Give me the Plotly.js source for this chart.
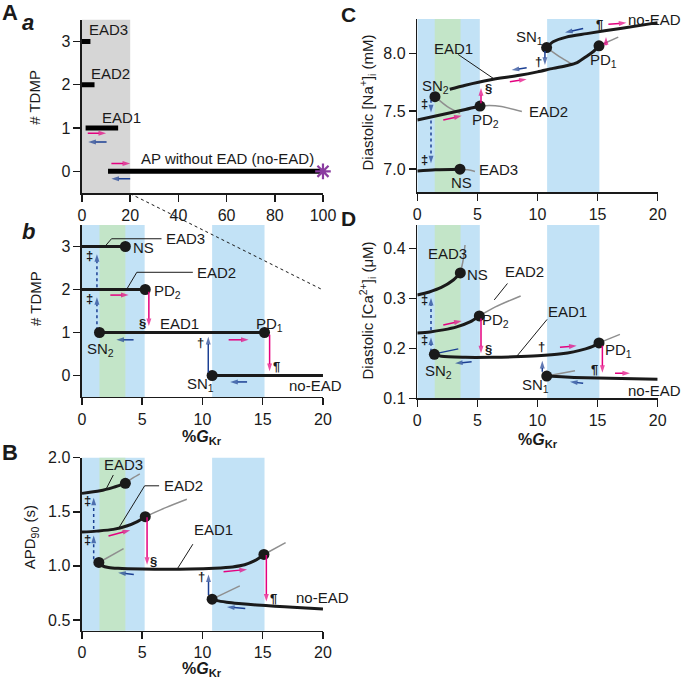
<!DOCTYPE html>
<html><head><meta charset="utf-8">
<script src="https://cdn.plot.ly/plotly-3.0.1.min.js"></script>
<style>body{margin:0;background:#fff}</style>
</head><body>
<div id="chart" style="width:685px;height:682px"></div>
<script>
// ---------- Panel Aa: number of TDMP vs %GKr (0-100) ----------
const aaBarY  = [3, 2, 1, 0];
const aaBarX0 = [0, 0, 1.5, 10.8];
const aaBarX1 = [3.5, 5.2, 15, 100];
const aaStarX = [100], aaStarY = [0];
const aaArrows = [[2.4,0.88,10,0.88,'f'],[10.2,0.68,2.6,0.68,'b'],[12.2,0.18,20,0.18,'f'],[20,-0.17,12.2,-0.17,'b']];
const aaLabels = [['EAD3',2.2,3.27,'left'],['EAD2',3.0,2.27,'left'],['EAD1',7.5,1.24,'left'],['AP without EAD (no-EAD)',23.5,0.3,'left']];

// ---------- Panel Ab: number of TDMP vs %GKr (0-20) ----------
const abLevelY = [3, 2, 1, 0];
const abX0 = [0, 0, 1.45, 10.8];
const abX1 = [3.6, 5.25, 15.15, 20];
const abDotX = [3.6, 5.25, 1.45, 15.15, 10.8];
const abDotY = [3, 2, 1, 1, 0];
const abLeaders = [[[1.9,2.45,6.6],[3,3.18,3.18]], [[3.7,4.55,9.2],[2,2.4,2.4]]];
const abArrows = [[2.35,1.87,3.87,1.87,'f'],[5.55,1.95,5.55,1.15,'f'],[4.28,0.83,2.85,0.83,'b'],[10.48,0.07,10.48,0.9,'b'],[12.17,0.83,13.83,0.83,'f'],[15.57,0.95,15.57,0.1,'f'],[13.7,-0.15,12.3,-0.15,'b']];
const abDotted = [1.24, [[1.05,1.82],[2.05,2.82]]];
const abLabels = [['EAD3',6.78,3.18,'left'],['EAD2',9.4,2.4,'left'],['NS',4.1,2.97,'left'],['PD<sub>2</sub>',5.8,1.95,'left'],
  ['EAD1',8.13,1.2,'center'],['PD<sub>1</sub>',14.25,1.18,'left'],['SN<sub>2</sub>',0.27,0.6,'left'],['SN<sub>1</sub>',8.57,-0.2,'left'],['no-EAD',17.0,-0.23,'left']];
const abSymbols = [['‡',0.6,2.8],['‡',0.6,1.8],['§',5.0,1.2],['†',9.86,0.77],['¶',16.18,0.21]];

// ---------- Panel B: APD90 (s) ----------
const bEAD3X = [0, 1.5, 2.6, 3.6],             bEAD3Y = [1.67, 1.694, 1.726, 1.763];
const bEAD3gX = [3.6, 4.2, 4.8],               bEAD3gY = [1.763, 1.81, 1.85];
const bEAD2X = [0, 1.2, 2.6, 3.7, 4.55, 5.25], bEAD2Y = [1.312, 1.321, 1.337, 1.368, 1.407, 1.454];
const bEAD2gX = [5.25, 7, 8.7],                bEAD2gY = [1.454, 1.54, 1.615];
const bEAD1X = [1.4, 1.7, 2.2, 3, 5, 7, 9, 11, 12.5, 13.5, 14.3, 14.8, 15.1];
const bEAD1Y = [1.031, 1.0, 0.985, 0.977, 0.970, 0.968, 0.970, 0.978, 0.99, 1.01, 1.045, 1.08, 1.105];
const bSN2gX = [1.4, 3.45],                    bSN2gY = [1.031, 1.16];
const bPD1gX = [15.1, 16.9],                   bPD1gY = [1.105, 1.215];
const bNoX = [10.8, 11.2, 12, 13, 14.5, 16, 17.5, 20];
const bNoY = [0.692, 0.678, 0.664, 0.652, 0.638, 0.627, 0.617, 0.60];
const bSN1gX = [10.8, 13.1],                   bSN1gY = [0.692, 0.815];
const bDotX = [3.6, 5.25, 1.4, 15.1, 10.8],    bDotY = [1.763, 1.454, 1.031, 1.105, 0.692];
const bLeaders = [[[2.0,2.6],[1.71,1.84]], [[3.05,5.2,6.4],[1.35,1.74,1.74]], [[7.9,9.2],[0.97,1.2]]];
const bArrows = [[2.2,1.275,4.0,1.33,'f'],[5.4,1.45,5.4,1.01,'f'],[4.3,0.92,3.0,0.935,'b'],[10.5,0.73,10.5,0.92,'b'],
  [11.75,0.945,13.7,0.967,'f'],[15.3,1.10,15.3,0.67,'f'],[13.55,0.605,12.03,0.62,'b']];
const bDotted = [0.97, [[1.06,1.28],[1.34,1.63]]];
const bLabels = [['EAD3',1.66,1.94,'left'],['EAD2',6.6,1.74,'left'],['EAD1',9.13,1.34,'left'],['no-EAD',17.6,0.705,'left']];
const bSymbols = [['‡',0.45,1.6],['‡',0.45,1.24],['§',5.97,1.04],['†',9.9,0.9],['¶',15.9,0.70]];

// ---------- Panel C: diastolic [Na+]i (mM) ----------
const cEAD3X = [0, 1.5, 3.55],                 cEAD3Y = [6.985, 6.995, 7.0];
const cEAD3gX = [3.55, 4.2, 4.8],              cEAD3gY = [7.0, 6.995, 6.98];
const cEAD2X = [0, 2, 4, 5.22],                cEAD2Y = [7.425, 7.47, 7.515, 7.545];
const cEAD2gX = [5.22, 6, 7, 8.7],             cEAD2gY = [7.545, 7.55, 7.54, 7.497];
const cSN2gX = [1.47, 2.5, 3.55],              cSN2gY = [7.626, 7.54, 7.483];
const cEAD1X = [2.7, 4, 6, 8.5, 10, 11.3, 12.5, 13.3, 14.1, 14.7, 15.12];
const cEAD1Y = [7.69, 7.725, 7.77, 7.81, 7.84, 7.87, 7.895, 7.92, 7.975, 8.02, 8.065];
const cPD1gX = [15.12, 16.72],                 cPD1gY = [8.065, 8.14];
const cNoX = [10.76, 11.3, 12.4, 14.1, 16.9, 20], cNoY = [8.05, 8.10, 8.14, 8.17, 8.215, 8.265];
const cSN1gX = [10.76, 12, 12.98],             cSN1gY = [8.05, 7.96, 7.90];
const cDotX = [3.55, 5.22, 1.47, 15.12, 10.76], cDotY = [7.0, 7.545, 7.626, 8.065, 8.05];
const cLeaders = [[[3.4,6.3],[7.99,7.785]]];
const cArrows = [[2.16,7.425,3.69,7.46,'f'],[5.3,7.57,5.3,7.7,'f'],[7.7,7.755,9.1,7.776,'f'],[9.1,7.876,7.85,7.856,'b'],
  [10.62,8.02,10.62,7.9,'b'],[13.8,8.215,12.29,8.18,'b'],[15.7,8.07,15.7,8.14,'f'],[15.9,8.25,17.4,8.264,'f']];
const cDotted = [1.14, [[7.6,7.49],[7.42,7.05]]];
const cLabels = [['EAD1',3.0,8.04,'center'],['SN<sub>2</sub>',1.54,7.71,'center'],['PD<sub>2</sub>',5.7,7.42,'center'],['EAD2',9.1,7.497,'left'],
  ['EAD3',4.94,7.0,'left'],['NS',3.7,6.886,'center'],['SN<sub>1</sub>',9.37,8.14,'center'],['PD<sub>1</sub>',15.47,7.94,'center'],['no-EAD',20,8.29,'right',25]];
const cSymbols = [['‡',0.64,7.57],['‡',0.64,7.08],['§',5.9,7.70],['†',10.07,7.93],['¶',15.2,8.245]];

// ---------- Panel D: diastolic [Ca2+]i (uM) ----------
const dEAD3X = [0, 1, 2, 3, 3.58],             dEAD3Y = [0.307, 0.313, 0.322, 0.337, 0.351];
const dEAD3gX = [3.58, 3.8, 3.97],             dEAD3gY = [0.351, 0.375, 0.407];
const dEAD2X = [0, 1.06, 2.16, 3.28, 4.38, 5.16], dEAD2Y = [0.231, 0.233, 0.237, 0.243, 0.253, 0.265];
const dEAD2gX = [5.16, 6.5, 8.6],              dEAD2gY = [0.265, 0.283, 0.305];
const dSN2bX = [1.42, 3.41],                   dSN2bY = [0.189, 0.199];
const dEAD1X = [1.42, 2, 4, 6, 8, 10, 12, 13, 14, 14.6, 15.12];
const dEAD1Y = [0.188, 0.184, 0.182, 0.182, 0.183, 0.185, 0.189, 0.193, 0.199, 0.204, 0.211];
const dPD1gX = [15.12, 16.86],                 dPD1gY = [0.211, 0.228];
const dNoX = [10.77, 12, 14, 16, 18, 20],      dNoY = [0.1446, 0.143, 0.141, 0.14, 0.139, 0.138];
const dSN1gX = [10.77, 13.12],                 dSN1gY = [0.1446, 0.155];
const dDotX = [3.58, 5.16, 1.42, 15.12, 10.77], dDotY = [0.351, 0.265, 0.188, 0.211, 0.1446];
const dLeaders = [[[6.4,7.5],[0.297,0.33]], [[8.27,10.8],[0.184,0.258]]];
const dArrows = [[2.16,0.247,3.69,0.255,'f'],[5.3,0.26,5.3,0.19,'f'],[4.52,0.173,3.14,0.17,'b'],[10.4,0.153,10.4,0.175,'b'],
  [11.87,0.202,13.26,0.205,'f'],[15.4,0.205,15.4,0.151,'f'],[16.45,0.15,17.7,0.15,'f'],[13.8,0.13,12.7,0.133,'b']];
const dDotted = [1.14, [[0.193,0.222],[0.237,0.301]]];
const dLabels = [['EAD3',2.5,0.39,'center'],['NS',5.0,0.348,'center'],['EAD2',8.96,0.353,'center'],['PD<sub>2</sub>',6.53,0.255,'center'],
  ['EAD1',12.5,0.273,'center'],['SN<sub>2</sub>',1.75,0.153,'center'],['PD<sub>1</sub>',16.7,0.195,'center'],['SN<sub>1</sub>',9.8,0.125,'center'],['no-EAD',20,0.115,'right',25]];
const dSymbols = [['‡',0.64,0.297],['‡',0.64,0.217],['§',5.9,0.197],['†',10.35,0.203],['¶',14.78,0.157]];

// ---------- shaded regions ----------
const blueBands = [[0, 5.2], [10.8, 15.15]];
const greenBand = [1.45, 3.6];
const greyBand = [0, 20];

// ---------- styling ----------
const FONT = 'Liberation Sans, Arial, Helvetica, sans-serif';
const INK = '#1a1a1a', GREY = '#8f8f8f', PINK = '#e4007f', NAVY = '#1b3f93';
const BLUEFILL = '#c2e2f6', GREENFILL = '#c3e5c8';
const traces = [];
const annotations = [];
const shapes = [];

function line(xa, ya, xs, ys, color, width) {
  traces.push({type:'scatter', mode:'lines', x:xs, y:ys, xaxis:xa, yaxis:ya,
    line:{color:color, width:width, shape:'spline', smoothing:0.8}, hoverinfo:'skip', showlegend:false, cliponaxis:false});
}
function dots(xa, ya, xs, ys) {
  traces.push({type:'scatter', mode:'markers', x:xs, y:ys, xaxis:xa, yaxis:ya,
    marker:{color:INK, size:11}, hoverinfo:'skip', showlegend:false, cliponaxis:false});
}
function arrowTrace(xa, ya, xs, ys, color, dash) {
  traces.push({type:'scatter', mode:'lines+markers', x:xs, y:ys, xaxis:xa, yaxis:ya,
    line:{color:color, width:1.5, dash:dash||'solid'},
    marker:{symbol:'arrow', size:[0,8], angleref:'previous', color:color, line:{width:0}},
    hoverinfo:'skip', showlegend:false, cliponaxis:false});
}
function arrows(xa, ya, list) {
  list.forEach(a => arrowTrace(xa, ya, [a[0],a[2]], [a[1],a[3]], a[4]==='f' ? PINK : NAVY));
}
function dotted(xa, ya, spec) {
  const x = spec[0];
  spec[1].forEach(seg => arrowTrace(xa, ya, [x,x], [seg[0],seg[1]], NAVY, 'dot'));
}
function labels(xa, ya, list) {
  list.forEach(l => annotations.push({x:l[1], y:l[2], xref:xa, yref:ya, text:l[0], showarrow:false,
    xanchor:l[3], yanchor:'middle', xshift:l[4]||0, font:{size:15, color:INK}}));
}
function symbols(xa, ya, list) {
  list.forEach(l => annotations.push({x:l[1], y:l[2], xref:xa, yref:ya, text:'<b>'+l[0]+'</b>', showarrow:false,
    xanchor:'center', yanchor:'middle', font:{size:13, color:INK}}));
}
function leaders(xa, ya, list) {
  list.forEach(l => traces.push({type:'scatter', mode:'lines', x:l[0], y:l[1], xaxis:xa, yaxis:ya,
    line:{color:INK, width:1}, hoverinfo:'skip', showlegend:false, cliponaxis:false}));
}
function bands(xa, ya) {
  const yd = ya + ' domain';
  blueBands.forEach(b => shapes.push({type:'rect', xref:xa, yref:yd, x0:b[0], x1:b[1], y0:0, y1:1, fillcolor:BLUEFILL, line:{width:0}, layer:'below'}));
  shapes.push({type:'rect', xref:xa, yref:yd, x0:greenBand[0], x1:greenBand[1], y0:0, y1:1, fillcolor:GREENFILL, line:{width:0}, layer:'below'});
}

// Panel Aa
shapes.push({type:'rect', xref:'x', yref:'y domain', x0:greyBand[0], x1:greyBand[1], y0:0, y1:1, fillcolor:'#d6d6d6', line:{width:0}, layer:'below'});
aaBarY.forEach((y,i) => traces.push({type:'scatter', mode:'lines', x:[aaBarX0[i], aaBarX1[i]], y:[y,y], xaxis:'x', yaxis:'y',
  line:{color:'#000', width:5}, hoverinfo:'skip', showlegend:false, cliponaxis:false}));
traces.push({type:'scatter', mode:'markers', x:aaStarX, y:aaStarY, xaxis:'x', yaxis:'y',
  marker:{symbol:'asterisk-open', size:13, color:'#8a3ca0', line:{color:'#8a3ca0', width:2.2}}, hoverinfo:'skip', showlegend:false, cliponaxis:false});
arrows('x','y',aaArrows);
labels('x','y',aaLabels);

// Panel Ab
bands('x2','y2');
abLevelY.forEach((y,i) => traces.push({type:'scatter', mode:'lines', x:[abX0[i], abX1[i]], y:[y,y], xaxis:'x2', yaxis:'y2',
  line:{color:INK, width:3}, hoverinfo:'skip', showlegend:false, cliponaxis:false}));
leaders('x2','y2',abLeaders);
dotted('x2','y2',abDotted);
dots('x2','y2',abDotX,abDotY);
arrows('x2','y2',abArrows);
labels('x2','y2',abLabels);
symbols('x2','y2',abSymbols);

// Panel B
bands('x3','y3');
[[bEAD3gX,bEAD3gY],[bEAD2gX,bEAD2gY],[bSN2gX,bSN2gY],[bPD1gX,bPD1gY],[bSN1gX,bSN1gY]].forEach(g => line('x3','y3',g[0],g[1],GREY,1.5));
[[bEAD3X,bEAD3Y],[bEAD2X,bEAD2Y],[bEAD1X,bEAD1Y],[bNoX,bNoY]].forEach(g => line('x3','y3',g[0],g[1],INK,3));
leaders('x3','y3',bLeaders);
dotted('x3','y3',bDotted);
dots('x3','y3',bDotX,bDotY);
arrows('x3','y3',bArrows);
labels('x3','y3',bLabels);
symbols('x3','y3',bSymbols);

// Panel C
bands('x4','y4');
[[cEAD3gX,cEAD3gY],[cEAD2gX,cEAD2gY],[cSN2gX,cSN2gY],[cPD1gX,cPD1gY],[cSN1gX,cSN1gY]].forEach(g => line('x4','y4',g[0],g[1],GREY,1.5));
[[cEAD3X,cEAD3Y],[cEAD2X,cEAD2Y],[cEAD1X,cEAD1Y],[cNoX,cNoY]].forEach(g => line('x4','y4',g[0],g[1],INK,3));
leaders('x4','y4',cLeaders);
dotted('x4','y4',cDotted);
dots('x4','y4',cDotX,cDotY);
arrows('x4','y4',cArrows);
labels('x4','y4',cLabels);
symbols('x4','y4',cSymbols);

// Panel D
bands('x5','y5');
[[dEAD3gX,dEAD3gY],[dEAD2gX,dEAD2gY],[dPD1gX,dPD1gY],[dSN1gX,dSN1gY]].forEach(g => line('x5','y5',g[0],g[1],GREY,1.5));
line('x5','y5',dSN2bX,dSN2bY,NAVY,1.5);
[[dEAD3X,dEAD3Y],[dEAD2X,dEAD2Y],[dEAD1X,dEAD1Y],[dNoX,dNoY]].forEach(g => line('x5','y5',g[0],g[1],INK,3));
leaders('x5','y5',dLeaders);
dotted('x5','y5',dDotted);
dots('x5','y5',dDotX,dDotY);
arrows('x5','y5',dArrows);
labels('x5','y5',dLabels);
symbols('x5','y5',dSymbols);

// zoom connector (dotted) from Aa x=20 to Ab
shapes.push({type:'line', xref:'paper', yref:'paper', x0:0.1901, y0:0.716, x1:0.4715, y1:0.5748, line:{color:INK, width:1, dash:'dot'}});

// panel letters, axis titles
const paperText = [
  ['<b>A</b>',0.015,0.981,22,0], ['<b><i>a</i></b>',0.041,0.967,22,0], ['<b><i>b</i></b>',0.041,0.66,22,0],
  ['<b>B</b>',0.014,0.337,22,0], ['<b>C</b>',0.509,0.979,21,0], ['<b>D</b>',0.509,0.68,21,0],
  ['# TDMP',0.051,0.858,15,-90], ['# TDMP',0.051,0.563,15,-90], ['APD<sub>90</sub> (s)',0.045,0.212,15,-90],
  ['Diastolic [Na<sup>+</sup>]<sub>i</sub> (mM)',0.536,0.85,15,-90], ['Diastolic [Ca<sup>2+</sup>]<sub>i</sub> (μM)',0.536,0.545,15,-90],
  ['<b>%<i>G</i><sub>Kr</sub></b>',0.295,0.358,16,0], ['<b>%<i>G</i><sub>Kr</sub></b>',0.295,0.018,16,0], ['<b>%<i>G</i><sub>Kr</sub></b>',0.785,0.354,16,0]
];
paperText.forEach(t => annotations.push({x:t[1], y:t[2], xref:'paper', yref:'paper', text:t[0], showarrow:false,
  xanchor:'center', yanchor:'middle', textangle:t[4], font:{size:t[3], color:INK}}));

const baseAx = {showline:true, linecolor:INK, linewidth:1.5, ticks:'outside', ticklen:7, tickwidth:1.5, tickcolor:INK,
  showgrid:false, zeroline:false, tickfont:{size:16, color:INK}, fixedrange:true};
function ax(o) { return Object.assign({}, baseAx, o); }
const XL = [0.1197, 0.4715], XR = [0.6092, 0.9601];
const x20 = {range:[0,20], tickvals:[0,5,10,15,20]};

const layout = {
  width:685, height:682, margin:{l:0,r:0,t:0,b:0}, showlegend:false,
  paper_bgcolor:'#fff', plot_bgcolor:'rgba(0,0,0,0)', font:{family:FONT, size:15, color:INK},
  xaxis:  ax({domain:XL, anchor:'y', range:[0,100], tickvals:[0,20,40,60,80,100]}),
  yaxis:  ax({domain:[0.717,0.971], anchor:'x', range:[-0.5,3.5], tickvals:[0,1,2,3]}),
  xaxis2: ax(Object.assign({domain:XL, anchor:'y2'}, x20)),
  yaxis2: ax({domain:[0.4179,0.6701], anchor:'x2', range:[-0.5,3.5], tickvals:[0,1,2,3]}),
  xaxis3: ax(Object.assign({domain:XL, anchor:'y3'}, x20)),
  yaxis3: ax({domain:[0.0752,0.3289], anchor:'x3', range:[0.4,2.0], tickvals:[0.5,1,1.5,2], ticktext:['0.5','1.0','1.5','2.0']}),
  xaxis4: ax(Object.assign({domain:XR, anchor:'y4'}, x20)),
  yaxis4: ax({domain:[0.718,0.9721], anchor:'x4', range:[6.8,8.296], tickvals:[7,7.5,8], ticktext:['7.0','7.5','8.0']}),
  xaxis5: ax(Object.assign({domain:XR, anchor:'y5'}, x20)),
  yaxis5: ax({domain:[0.416,0.670], anchor:'x5', range:[0.1,0.447], tickvals:[0.1,0.2,0.3,0.4]}),
  shapes: shapes, annotations: annotations
};

Plotly.newPlot('chart', traces, layout, {displayModeBar:false, staticPlot:true});
</script>
</body></html>
